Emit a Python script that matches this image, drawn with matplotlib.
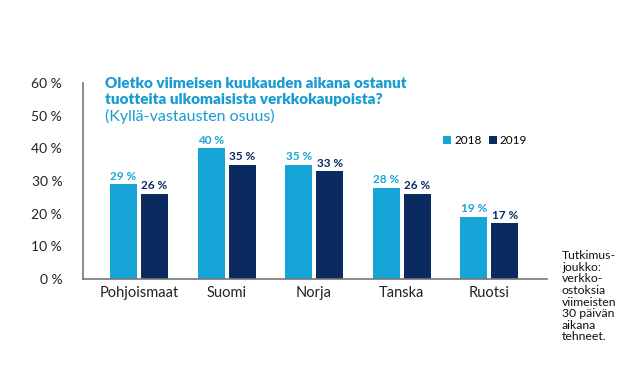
import numpy as np
import matplotlib
matplotlib.use("Agg")
import matplotlib.pyplot as plt

maat = ["Pohjoismaat", "Suomi", "Norja", "Tanska", "Ruotsi"]
v2018 = [29, 40, 35, 28, 19]
v2019 = [26, 35, 33, 26, 17]
yticks = [0, 10, 20, 30, 40, 50, 60]

c18 = "#17a5d8"
c19 = "#0b2a5f"

plt.rcParams["font.family"] = ["Lato", "DejaVu Sans"]

fig = plt.figure(figsize=(6.3, 3.83), dpi=100)
# axes in pixel terms: left 83, right 547, top 83 (60 %), bottom 279 (0 %)
W, H = 630, 383
ax = fig.add_axes([83 / W, 1 - 279 / H, (547 - 83) / W, (279 - 83) / H])

x = np.arange(len(maat))
w = 0.31
off = 0.177
ax.bar(x - off, v2018, w, color=c18, label="2018")
ax.bar(x + off, v2019, w, color=c19, label="2019")

for xi, v in zip(x, v2018):
    ax.text(xi - off, v + 0.8, f"{v} %", ha="center", va="bottom",
            fontsize=8.5, fontweight="bold", color=c18)
for xi, v in zip(x, v2019):
    ax.text(xi + off, v + 0.8, f"{v} %", ha="center", va="bottom",
            fontsize=8.5, fontweight="bold", color=c19)

ax.set_xlim(-0.64, 4.66)
ax.set_ylim(0, 60)
ax.set_yticks(yticks)
ax.set_yticklabels([f"{t} %" for t in yticks], fontsize=10, color="#222222")
ax.set_xticks(x)
ax.set_xticklabels(maat, fontsize=10.5, color="#222222")
ax.tick_params(axis="y", length=0, pad=15)
ax.tick_params(axis="x", length=0, pad=5)
for s in ["top", "right"]:
    ax.spines[s].set_visible(False)
for s in ["left", "bottom"]:
    ax.spines[s].set_color("#777777")
    ax.spines[s].set_linewidth(1.2)

fig.text(105 / W, 1 - 91.5 / H,
         "Oletko viimeisen kuukauden aikana ostanut\ntuotteita ulkomaisista verkkokaupoista?",
         fontsize=11, fontweight="heavy", color="#1a9bd1", va="center",
         ha="left", linespacing=1.25)
fig.text(105 / W, 1 - 116 / H, "(Kyllä-vastausten osuus)",
         fontsize=11.5, color="#1a9bd1", va="center", ha="left")

ax.legend(loc="upper left", bbox_to_anchor=(443 / W, 1 - 135 / H),
          bbox_transform=fig.transFigure, ncol=2, frameon=False,
          fontsize=8.5, handlelength=0.7, handleheight=0.7,
          handletextpad=0.25, columnspacing=0.6, borderaxespad=0,
          borderpad=0)

fig.text(562 / W, 1 - 250 / H,
         "Tutkimus-\njoukko:\nverkko-\nostoksia\nviimeisten\n30 päivän\naikana\ntehneet.",
         fontsize=8.8, color="#111111", va="top", ha="left", linespacing=1.07)

fig.savefig("out.png", dpi=100)
